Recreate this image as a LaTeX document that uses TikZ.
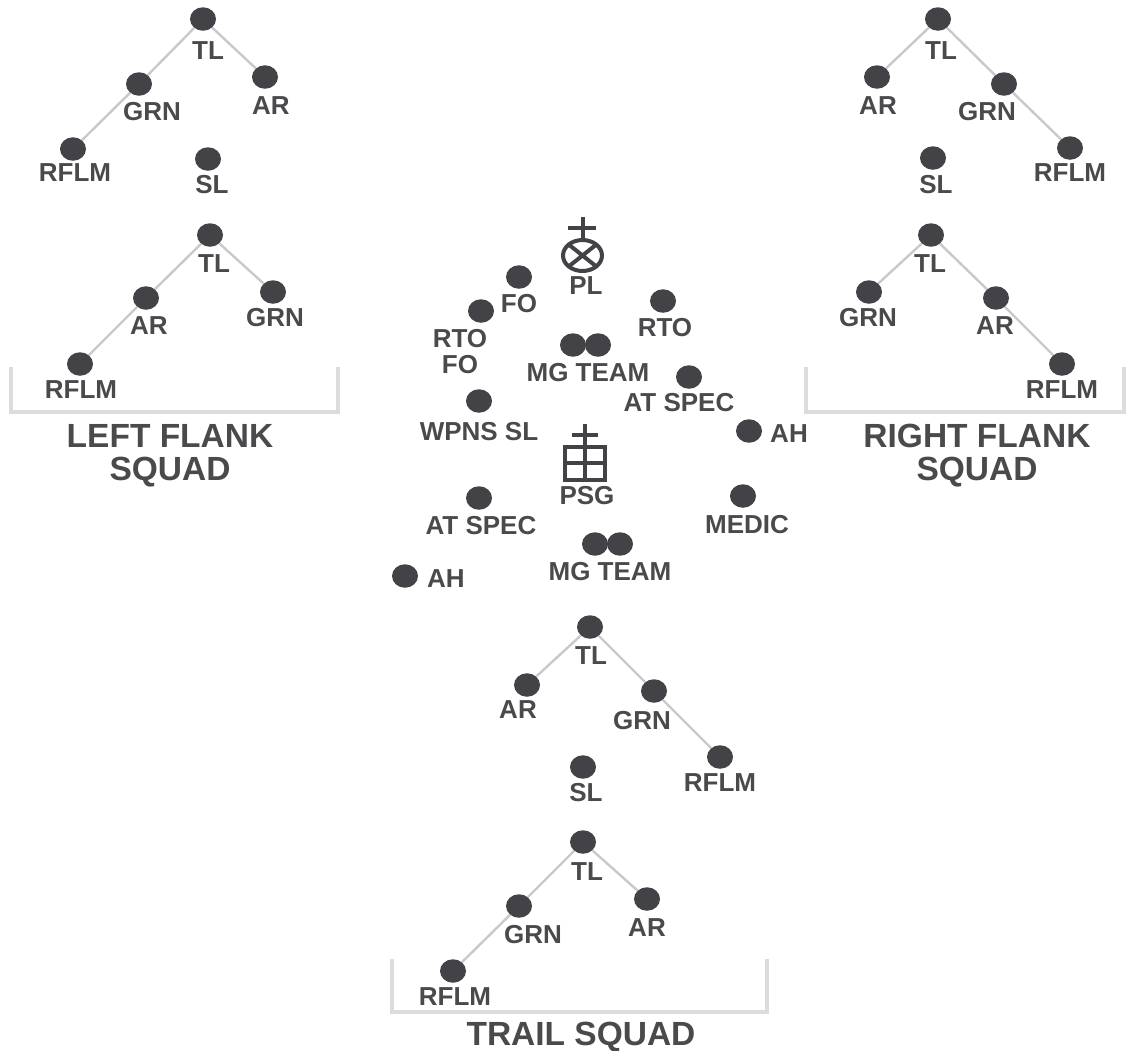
\documentclass[tikz,border=0pt]{standalone}
\usepackage{fontspec}
\setmainfont{Liberation Sans}
\usetikzlibrary{shapes.geometric}
\definecolor{ink}{HTML}{434347}
\definecolor{txt}{HTML}{4A4A4D}
\definecolor{link}{HTML}{C9C9C9}
\definecolor{brk}{HTML}{DCDCDC}
\tikzset{
  x=1bp,y=-1bp,
  soldier/.style={ellipse,fill=ink,draw=none,minimum width=26bp,minimum height=23.5bp,inner sep=0pt},
  lab/.style={text=txt,font=\fontsize{26bp}{28bp}\selectfont\bfseries,inner sep=0pt,text height=18.5bp,text depth=0pt},
  title/.style={text=txt,font=\fontsize{33.5bp}{35bp}\selectfont\bfseries,inner sep=0pt,text height=23.5bp,text depth=0pt},
  linkline/.style={draw=link,line width=2.4bp},
  bracket/.style={draw=brk,line width=3.5bp},
  symbol/.style={draw=ink,line width=4bp},
}
\begin{document}
\begin{tikzpicture}
\useasboundingbox (0,0) rectangle (1126,1051);
% left flank, first team
\node[soldier] (a1) at (203,19) {}; \node[soldier] (a2) at (139,84) {}; \node[soldier] (a3) at (265,77) {}; \node[soldier] (a4) at (73,149) {}; \node[soldier] (a5) at (208,159) {};
\draw[linkline] (a1)--(a2) (a2)--(a4) (a1)--(a3);
\node[lab] (a1l) at (208,50) {TL}; \node[lab] (a2l) at (152,111) {GRN}; \node[lab] (a3l) at (271,105) {AR}; \node[lab] (a4l) at (75,172) {RFLM}; \node[lab] (a5l) at (212,184) {SL};
% left flank, second team
\node[soldier] (b1) at (210,235) {}; \node[soldier] (b2) at (146,298) {}; \node[soldier] (b3) at (273,292) {}; \node[soldier] (b4) at (80,364) {};
\draw[linkline] (b1)--(b2) (b2)--(b4) (b1)--(b3);
\node[lab] (b1l) at (214,263) {TL}; \node[lab] (b2l) at (149,325) {AR}; \node[lab] (b3l) at (275,317) {GRN}; \node[lab] (b4l) at (81,389) {RFLM};
\coordinate (lb1) at (11,367); \coordinate (lb2) at (11,412); \coordinate (lb3) at (338,412); \coordinate (lb4) at (338,367);
\draw[bracket] (lb1)--(lb2)--(lb3)--(lb4);
\node[title] (lt1) at (170,436) {LEFT FLANK}; \node[title] (lt2) at (170,469) {SQUAD};
% right flank, first team
\node[soldier] (c1) at (938,19) {}; \node[soldier] (c2) at (877,77) {}; \node[soldier] (c3) at (1004,84) {}; \node[soldier] (c4) at (1070,148) {}; \node[soldier] (c5) at (933,158) {};
\draw[linkline] (c1)--(c2) (c1)--(c3) (c3)--(c4);
\node[lab] (c1l) at (941,50) {TL}; \node[lab] (c2l) at (878,105) {AR}; \node[lab] (c3l) at (987,111) {GRN}; \node[lab] (c4l) at (1070,172) {RFLM}; \node[lab] (c5l) at (936,184) {SL};
% right flank, second team
\node[soldier] (d1) at (931,235) {}; \node[soldier] (d2) at (869,292) {}; \node[soldier] (d3) at (996,298) {}; \node[soldier] (d4) at (1062,364) {};
\draw[linkline] (d1)--(d2) (d1)--(d3) (d3)--(d4);
\node[lab] (d1l) at (930,263) {TL}; \node[lab] (d2l) at (868,317) {GRN}; \node[lab] (d3l) at (995,325) {AR}; \node[lab] (d4l) at (1062,389) {RFLM};
\coordinate (rb1) at (806,367); \coordinate (rb2) at (806,412); \coordinate (rb3) at (1124,412); \coordinate (rb4) at (1124,367);
\draw[bracket] (rb1)--(rb2)--(rb3)--(rb4);
\node[title] (rt1) at (977,436) {RIGHT FLANK}; \node[title] (rt2) at (977,469) {SQUAD};
% platoon leader symbol
\node[ellipse,symbol,minimum width=39bp,minimum height=31bp,inner sep=0pt,outer sep=0pt] (pl) at (582.5,255.5) {};
\draw[symbol] (pl.north west)--(pl.south east) (pl.north east)--(pl.south west);
\coordinate (plt) at (582.5,217); \coordinate (pll) at (568,228); \coordinate (plr) at (596,228);
\draw[symbol] (plt)--(pl.north) (pll)--(plr);
\node[lab] (pll2) at (586,285) {PL};
% headquarters
\node[soldier] (e1) at (519,277) {}; \node[lab] (e1l) at (519,303) {FO};
\node[soldier] (e2) at (481,311) {}; \node[lab] (e2l) at (460,338) {RTO}; \node[lab] (e2m) at (460,364) {FO};
\node[soldier] (e3) at (663,301) {}; \node[lab] (e3l) at (665,327) {RTO};
\node[soldier] (e4) at (573,345) {}; \node[soldier] (e5) at (598,345) {}; \node[lab] (e4l) at (588,372) {MG TEAM};
\node[soldier] (e6) at (689,377) {}; \node[lab] (e6l) at (679,402) {AT SPEC};
\node[soldier] (e7) at (749,431) {}; \node[lab] (e7l) at (789,433) {AH};
\node[soldier] (e8) at (479,401) {}; \node[lab] (e8l) at (479,431) {WPNS SL};
% platoon sergeant symbol
\node[rectangle,symbol,minimum width=40bp,minimum height=33bp,inner sep=0pt,outer sep=0pt] (psg) at (585,463) {};
\coordinate (pt) at (585,424); \coordinate (ph1) at (572,435); \coordinate (ph2) at (598,435);
\draw[symbol] (pt)--(psg.south) (ph1)--(ph2) (psg.west)--(psg.east);
\node[lab] (psgl) at (587,495) {PSG};
\node[soldier] (f1) at (479,498) {}; \node[lab] (f1l) at (481,525) {AT SPEC};
\node[soldier] (f2) at (743,496) {}; \node[lab] (f2l) at (747,524) {MEDIC};
\node[soldier] (f3) at (595,544) {}; \node[soldier] (f4) at (620,544) {}; \node[lab] (f3l) at (610,571) {MG TEAM};
\node[soldier] (f5) at (405,576) {}; \node[lab] (f5l) at (446,578) {AH};
% trail squad, first team
\node[soldier] (g1) at (590,627) {}; \node[soldier] (g2) at (527,685) {}; \node[soldier] (g3) at (654,691) {}; \node[soldier] (g4) at (720,757) {}; \node[soldier] (g5) at (583,767) {};
\draw[linkline] (g1)--(g2) (g1)--(g3) (g3)--(g4);
\node[lab] (g1l) at (591,655) {TL}; \node[lab] (g2l) at (518,709) {AR}; \node[lab] (g3l) at (642,720) {GRN}; \node[lab] (g4l) at (720,782) {RFLM}; \node[lab] (g5l) at (586,792) {SL};
% trail squad, second team
\node[soldier] (h1) at (583,842) {}; \node[soldier] (h2) at (519,906) {}; \node[soldier] (h3) at (647,899) {}; \node[soldier] (h4) at (453,971) {};
\draw[linkline] (h1)--(h2) (h2)--(h4) (h1)--(h3);
\node[lab] (h1l) at (587,871) {TL}; \node[lab] (h2l) at (533,934) {GRN}; \node[lab] (h3l) at (647,927) {AR}; \node[lab] (h4l) at (455,996) {RFLM};
\coordinate (tb1) at (392,959); \coordinate (tb2) at (392,1012); \coordinate (tb3) at (767,1012); \coordinate (tb4) at (767,959);
\draw[bracket] (tb1)--(tb2)--(tb3)--(tb4);
\node[title] (tt) at (581,1034) {TRAIL SQUAD};
\end{tikzpicture}
\end{document}
